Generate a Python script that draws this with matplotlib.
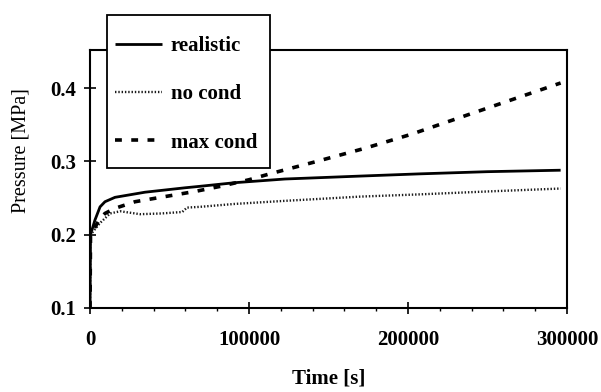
import matplotlib
matplotlib.use("Agg")
import matplotlib.pyplot as plt
from matplotlib.patches import Rectangle
from matplotlib.ticker import MultipleLocator, FormatStrFormatter

# Time [s] and pressure [MPa] for the three condensation cases
t_realistic = [0, 300, 3100, 6300, 9400, 15700, 34600, 59700, 69000, 91200, 122600, 170000, 207000, 250000, 296000]
p_realistic = [0.10, 0.200, 0.220, 0.238, 0.245, 0.251, 0.258, 0.264, 0.266, 0.271, 0.276, 0.280, 0.283, 0.286, 0.288]

t_no_cond = [0, 300, 6300, 12600, 19000, 22000, 31500, 45000, 58000, 61000, 69000, 91000, 121000, 170000, 207000, 250000, 296000]
p_no_cond = [0.10, 0.200, 0.216, 0.229, 0.232, 0.231, 0.228, 0.229, 0.231, 0.237, 0.238, 0.242, 0.246, 0.252, 0.255, 0.259, 0.263]

t_max_cond = [0, 300, 6300, 9400, 15700, 28300, 39000, 66000, 82000, 100000, 113000, 142600, 173000, 202000, 231500, 261000, 296000]
p_max_cond = [0.10, 0.200, 0.222, 0.229, 0.236, 0.245, 0.249, 0.259, 0.266, 0.275, 0.283, 0.300, 0.318, 0.337, 0.359, 0.381, 0.407]

x_ticks = [0, 100000, 200000, 300000]
y_ticks = [0.1, 0.2, 0.3, 0.4]
labels = ["realistic", "no cond", "max cond"]

serif = ["Liberation Serif", "DejaVu Serif"]
plt.rcParams["font.family"] = serif

fig = plt.figure(figsize=(6.01, 3.92), dpi=100)
ax = fig.add_axes([0.1498, 0.2143, 0.7936, 0.6581])

l1, = ax.plot(t_realistic, p_realistic, color="black", lw=2.0, solid_capstyle="butt")
l2, = ax.plot(t_no_cond, p_no_cond, color="#1a1a1a", lw=1.7, linestyle=(0, (0.6, 0.8)))
l3, = ax.plot(t_max_cond, p_max_cond, color="black", lw=2.6, linestyle=(0, (1.9, 2.6)))

ax.set_xlim(0, 300000)
ax.set_ylim(0.1, 0.452)
ax.set_xticks(x_ticks)
ax.set_yticks(y_ticks)
ax.xaxis.set_minor_locator(MultipleLocator(20000))
ax.yaxis.set_major_formatter(FormatStrFormatter("%.1f"))
ax.xaxis.set_major_formatter(FormatStrFormatter("%d"))

ax.tick_params(axis="both", which="major", direction="inout", length=8, width=1.2,
               labelsize=15)
ax.tick_params(axis="x", which="minor", direction="out", length=2, width=1.0)
ax.tick_params(axis="y", pad=6)
ax.tick_params(axis="x", pad=12)
for lab in ax.get_xticklabels() + ax.get_yticklabels():
    lab.set_fontweight("bold")

for s in ax.spines.values():
    s.set_linewidth(1.5)
    s.set_color("black")

ax.set_xlabel("Time [s]", fontsize=15, fontweight="bold", labelpad=13)
ax.set_ylabel("Pressure [MPa]", fontsize=14.5)
ax.yaxis.set_label_coords(-0.125, 0.61)

# Legend box sits over the top of the plot frame
W, H = 601, 392
box = Rectangle((107 / W, 1 - 168 / H), (270 - 107) / W, (168 - 15) / H,
                transform=fig.transFigure, facecolor="white", edgecolor="black",
                linewidth=1.3, zorder=5)
fig.add_artist(box)

leg = fig.legend([l1, l2, l3], labels,
                 loc="upper left", bbox_to_anchor=(107 / W, 1 - 28 / H),
                 frameon=False, prop={"family": serif, "weight": "bold", "size": 15},
                 handlelength=2.25, handletextpad=0.4, labelspacing=1.35,
                 borderpad=0.4, borderaxespad=0.0)
leg.set_zorder(6)

fig.savefig("out.png", dpi=100)
